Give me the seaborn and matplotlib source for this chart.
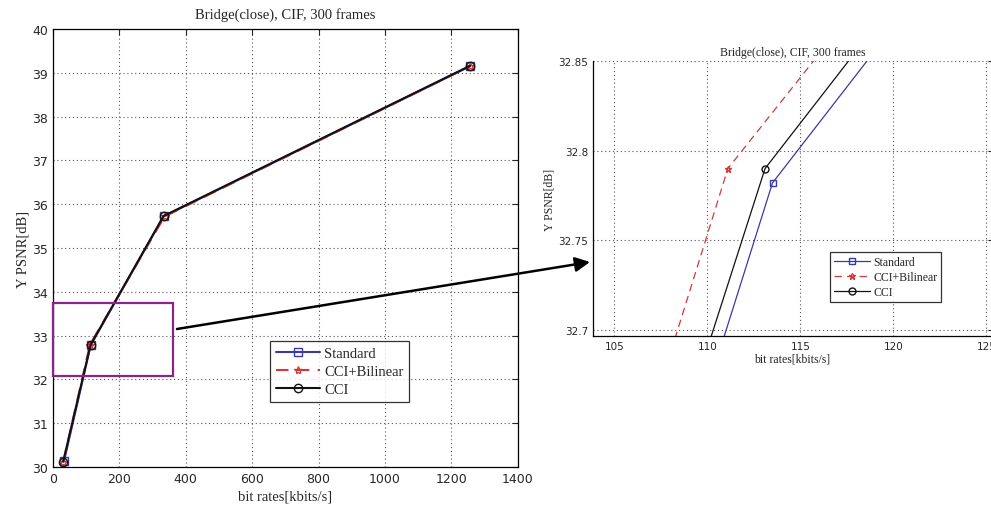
import numpy as np
import pandas as pd
import matplotlib
matplotlib.use("Agg")
import matplotlib.pyplot as plt
import matplotlib.patches as patches
import seaborn as sns

sns.set_style("white")
plt.rcParams['font.family'] = ['Liberation Serif', 'DejaVu Serif']
plt.rcParams['xtick.direction'] = 'in'
plt.rcParams['ytick.direction'] = 'in'

# Data (bit rate in kbits/s, Y PSNR in dB)
std_rate = [33, 113.5, 333, 1256]
std_psnr = [30.13, 32.782, 35.72, 39.15]
bil_rate = [31, 111.1, 336, 1256]
bil_psnr = [30.12, 32.79, 35.72, 39.15]
cci_rate = [30.5, 113.1, 333, 1256]
cci_psnr = [30.12, 32.79, 35.73, 39.16]

series_names = ["Standard", "CCI+Bilinear", "CCI"]
title_text = "Bridge(close), CIF, 300 frames"

left_xticks = [0, 200, 400, 600, 800, 1000, 1200, 1400]
left_yticks = [30, 31, 32, 33, 34, 35, 36, 37, 38, 39, 40]
right_xticks = [105, 110, 115, 120, 125]
right_yticks = [32.7, 32.75, 32.8, 32.85]

styles = {
    "Standard": dict(color="#3a3aa0", marker="s", linestyle="-"),
    "CCI+Bilinear": dict(color="#d03a3a", marker="*", linestyle=(0, (6, 4))),
    "CCI": dict(color="#111111", marker="o", linestyle="-"),
}
data = {
    "Standard": (std_rate, std_psnr),
    "CCI+Bilinear": (bil_rate, bil_psnr),
    "CCI": (cci_rate, cci_psnr),
}

fig = plt.figure(figsize=(9.91, 5.06), dpi=100)
ax1 = fig.add_axes([0.0535, 0.0751, 0.469, 0.8656])
ax2 = fig.add_axes([0.5984, 0.334, 0.4026, 0.5435])


def draw(ax, lw, ms):
    for name in series_names:
        x, y = data[name]
        st = styles[name]
        sns.lineplot(x=x, y=y, ax=ax, sort=False, color=st["color"],
                     marker=st["marker"], linestyle=st["linestyle"],
                     linewidth=lw, markersize=ms, markerfacecolor="none",
                     markeredgecolor=st["color"], markeredgewidth=1.0,
                     label=name)
    ax.grid(True, linestyle=(0, (1, 2.5)), color="#555555", linewidth=0.8)
    for sp in ax.spines.values():
        sp.set_color("black")
        sp.set_linewidth(0.9)


# Left: full range
draw(ax1, 1.5, 6)
ax1.set_xlim(0, 1400)
ax1.set_ylim(30, 40)
ax1.set_xticks(left_xticks)
ax1.set_yticks(left_yticks)
ax1.tick_params(labelsize=9, length=4, top=True, right=True)
for lab in ax1.get_xticklabels() + ax1.get_yticklabels():
    lab.set_family("DejaVu Sans")
ax1.set_title(title_text, fontsize=10.5, pad=8)
ax1.set_xlabel("bit rates[kbits/s]", fontsize=10.5, labelpad=3)
ax1.set_ylabel("Y PSNR[dB]", fontsize=10.5, labelpad=2)
leg1 = ax1.legend(loc="lower left", bbox_to_anchor=(0.467, 0.148),
                  borderaxespad=0, fontsize=10.5, frameon=True, fancybox=False,
                  edgecolor="black", handlelength=3, labelspacing=0.35,
                  borderpad=0.4, handletextpad=0.3)
leg1.get_frame().set_linewidth(0.9)

# Zoom box on the left plot
ax1.add_patch(patches.Rectangle((0, 32.08), 361, 1.66, fill=False,
                                edgecolor="#8b238b", linewidth=1.6,
                                clip_on=False, zorder=5))

# Right: zoomed region
draw(ax2, 0.9, 5)
ax2.set_xlim(103.85, 125.3)
ax2.set_ylim(32.6966, 32.85)
ax2.set_xticks(right_xticks)
ax2.set_yticks(right_yticks)
ax2.set_yticklabels(["32.7", "32.75", "32.8", "32.85"])
ax2.tick_params(labelsize=7.5, length=3, right=True)
for lab in ax2.get_xticklabels() + ax2.get_yticklabels():
    lab.set_family("DejaVu Sans")
ax2.spines["top"].set_visible(False)
ax2.set_title(title_text, fontsize=8.5, pad=4)
ax2.set_xlabel("bit rates[kbits/s]", fontsize=8.5, labelpad=1)
ax2.set_ylabel("Y PSNR[dB]", fontsize=8.5, labelpad=2)
leg2 = ax2.legend(loc="lower left", bbox_to_anchor=(0.594, 0.124),
                  borderaxespad=0, fontsize=8.5, frameon=True, fancybox=False,
                  edgecolor="black", handlelength=3, labelspacing=0.25,
                  borderpad=0.35, handletextpad=0.3)
leg2.get_frame().set_linewidth(0.9)

# Arrow from the zoom box to the zoomed plot
ax1.annotate("", xy=(590, 243), xycoords="figure pixels",
             xytext=(177, 176), textcoords="figure pixels",
             arrowprops=dict(arrowstyle="-|>", color="black", lw=1.8,
                             mutation_scale=22, shrinkA=0, shrinkB=0),
             annotation_clip=False)

fig.savefig("out.png", dpi=100)
